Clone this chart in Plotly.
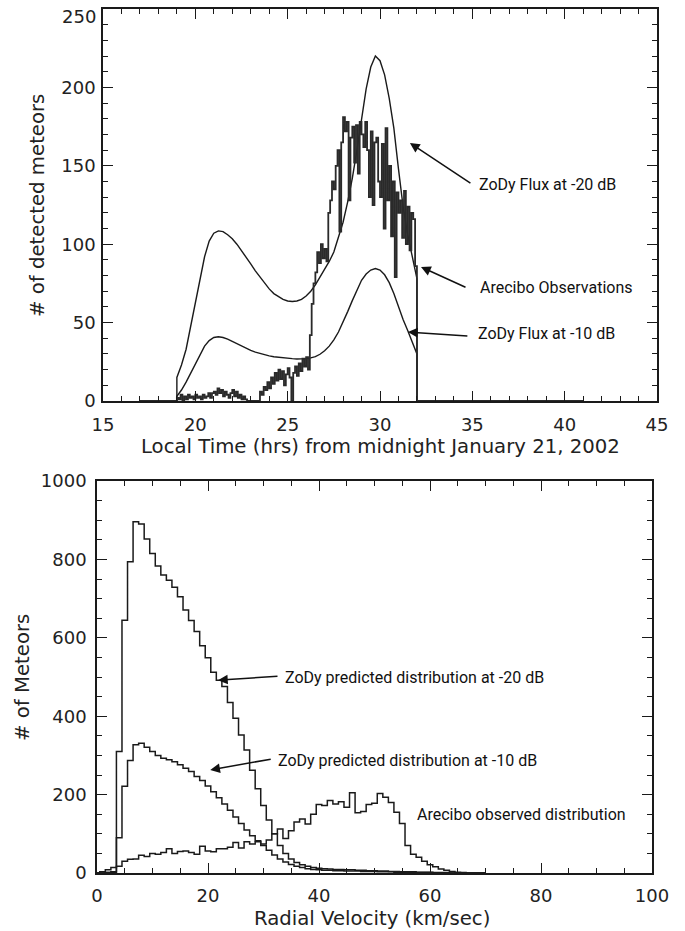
import numpy as np
import plotly.graph_objects as go

# ---------------- Top panel data ----------------
curve_t = np.round(np.arange(19.0, 32.001, 0.25), 2).tolist()
zody_m20 = [15, 23, 33, 48, 63, 78, 92, 102, 107, 108.5, 108, 106, 103.5, 100, 96, 92,
            87.5, 83, 79, 75, 71.5, 68.5, 66.5, 64.8, 63.8, 63.5, 63.8, 64.8, 67, 70, 74,
            79, 84, 89, 95, 104, 114, 127, 142, 160, 180, 199, 213, 220, 217, 208, 193,
            174, 148, 124, 106, 91, 78]
zody_m10 = [3, 7, 12, 18, 24, 30, 35, 38.5, 40.5, 41, 40.5, 39.5, 38, 36.5, 35, 33.5,
            32.3, 31.2, 30.3, 29.5, 28.8, 28.2, 27.8, 27.5, 27.2, 27, 26.8, 26.8, 27,
            27.5, 28.3, 29.8, 32, 35, 39, 44, 50, 57, 64, 71, 77, 81, 83.5, 84.5, 83.5,
            80.5, 75.5, 68.5, 60, 52, 45, 37.5, 30]

arecibo_start = 19.0
arecibo_bin = 0.1
arecibo_counts = [
    2, 1, 4, 0, 3, 1, 4, 2, 3, 1,
    4, 2, 3, 1, 4, 2, 3, 5, 2, 5,
    6, 4, 8, 5, 7, 3, 6, 4, 2, 5,
    7, 3, 6, 2, 4, 1, 3, 1,
    0, 0, 0, 0, 0, 0, 0,
    6, 4, 9, 7, 12,
    8, 15, 11, 18, 13, 20, 14, 19, 10, 17,
    21, 15, 0, 18, 22, 16, 24, 19, 27, 22,
    28,
    20, 42, 62, 75, 82, 95, 88, 100, 91,
    97, 89, 120, 128, 140, 135, 150, 160, 108, 165,
    181, 172, 178, 128, 168, 175, 152, 176, 145, 178,
    170, 162, 178, 160, 130, 172, 125, 165, 168, 140,
    130, 164, 110, 174, 128, 150, 105, 140, 79, 133,
    120, 128, 104, 134, 100, 124, 96, 120, 116, 86,
]
baseline_start, baseline_end = 17.0, 41.0
top_yticks = [0, 50, 100, 150, 200, 250]

# ---------------- Bottom panel data ----------------
vel = list(range(0, 71))
pred_m20 = [0, 0, 1, 3, 310, 645, 794, 896, 890, 852, 815, 783, 760, 747, 729, 705, 671,
            644, 616, 580, 549, 512, 492, 476, 435, 395, 352, 314, 262, 215, 172, 135,
            100, 70, 50, 36, 27, 21, 17, 14, 12, 11, 10, 9, 9, 8, 8, 7, 7, 6, 6, 5, 5,
            4, 4, 3, 3, 3, 2, 2, 2, 1, 1, 1, 0, 0, 0, 0, 0, 0, 0]
pred_m10 = [0, 0, 1, 2, 90, 221, 287, 327, 331, 321, 310, 300, 293, 289, 284, 276, 267,
            259, 246, 236, 222, 207, 192, 176, 160, 143, 126, 110, 95, 82, 70, 58, 46,
            36, 28, 22, 17, 14, 11, 9, 8, 7, 7, 6, 6, 5, 5, 5, 4, 4, 4, 3, 3, 3, 2, 2,
            2, 1, 1, 1, 1, 0, 0, 0, 0, 0, 0, 0, 0, 0, 0]
obs_arecibo = [0, 3, 8, 14, 17, 30, 35, 36, 45, 42, 50, 48, 52, 62, 50, 55, 56, 52, 48,
               68, 56, 54, 62, 62, 66, 78, 64, 80, 74, 80, 74, 84, 100, 112, 88, 108, 130,
               138, 125, 150, 175, 172, 185, 176, 182, 168, 205, 154, 157, 175, 178, 203,
               193, 180, 155, 126, 70, 48, 40, 30, 21, 16, 10, 7, 4, 2, 1, 0, 0, 0, 0]

W, H = 685, 931
INK = "#1a1a1a"

def px(x):
    return x / W

def py(y):
    return 1 - y / H

fig = go.Figure()

# top curves
fig.add_trace(go.Scatter(x=[baseline_start, curve_t[0]] + curve_t + [curve_t[-1], baseline_end],
                         y=[0, 0] + zody_m20 + [0, 0], mode="lines",
                         line=dict(color=INK, width=1.4), xaxis="x", yaxis="y"))
fig.add_trace(go.Scatter(x=[baseline_start, curve_t[0]] + curve_t + [curve_t[-1], baseline_end],
                         y=[0, 0] + zody_m10 + [0, 0], mode="lines",
                         line=dict(color=INK, width=1.4), xaxis="x", yaxis="y"))
bin_starts = [round(arecibo_start + i * arecibo_bin, 2) for i in range(len(arecibo_counts))]
end_t = round(arecibo_start + len(arecibo_counts) * arecibo_bin, 2)
fig.add_trace(go.Scatter(x=[baseline_start] + bin_starts + [end_t, baseline_end],
                         y=[0] + arecibo_counts + [0, 0], mode="lines",
                         line=dict(color="#2a2a2a", width=1.8, shape="hv"),
                         xaxis="x", yaxis="y"))

# bottom histograms
for series in (pred_m20, pred_m10, obs_arecibo):
    fig.add_trace(go.Scatter(x=vel, y=series, mode="lines",
                             line=dict(color=INK, width=1.5, shape="hvh"),
                             xaxis="x2", yaxis="y2"))

tickfont = dict(family="DejaVu Sans", size=18, color="#222")
common = dict(showline=True, linecolor=INK, linewidth=1.5, mirror="ticks",
              ticks="inside", ticklen=10, tickwidth=1.3, tickcolor=INK,
              showgrid=False, zeroline=False, tickfont=tickfont, automargin=False,
              ticklabeloverflow="allow")

def minor(d):
    return dict(ticks="inside", ticklen=5, tickwidth=1.1, tickcolor=INK, dtick=d, showgrid=False)

# the topmost label of the upper panel sits just below its tick (it is drawn separately)
top_ytext = [str(v) for v in top_yticks[:-1]] + [""]

fig.update_layout(
    width=W, height=H, margin=dict(l=0, r=0, t=0, b=0, autoexpand=False),
    paper_bgcolor="white", plot_bgcolor="white", showlegend=False,
    xaxis=dict(domain=[px(103), px(657)], range=[15, 45], tick0=15, dtick=5,
               minor=minor(1), anchor="y", ticklabelstandoff=7, **common),
    yaxis=dict(domain=[py(401), py(9)], range=[0, 250], tickvals=top_yticks,
               ticktext=top_ytext, minor=minor(10), anchor="x", ticklabelstandoff=2,
               **common),
    xaxis2=dict(domain=[px(97), px(652)], range=[0, 100], dtick=20,
                minor=minor(5), anchor="y2", ticklabelstandoff=6, **common),
    yaxis2=dict(domain=[py(873), py(481)], range=[0, 1000], dtick=200,
                minor=minor(50), anchor="x2", ticklabelstandoff=5, **common),
)

titlefont = dict(family="DejaVu Sans", size=19.7, color="#222")
annfont = dict(family="Roboto", size=16, color="#111")
anns = [
    dict(text="Local Time (hrs) from midnight January 21, 2002", x=px(380), y=py(446)),
    dict(text="# of detected meteors", x=px(37), y=py(206), textangle=-90),
    dict(text="Radial Velocity (km/sec)", x=px(372), y=py(918)),
    dict(text="# of Meteors", x=px(22), y=py(678), textangle=-90),
]
for a in anns:
    a.update(xref="paper", yref="paper", xanchor="center", yanchor="middle",
             showarrow=False, font=titlefont)
anns.append(dict(text=str(top_yticks[-1]), x=px(98), y=py(16), xref="paper", yref="paper",
                 xanchor="right", yanchor="middle", showarrow=False, font=tickfont))
labels = [
    ("ZoDy Flux at -20 dB", 477, 184),
    ("Arecibo Observations", 478, 287),
    ("ZoDy Flux at -10 dB", 476, 333),
    ("ZoDy predicted distribution at -20 dB", 283, 677),
    ("ZoDy predicted distribution at -10 dB", 276, 760),
    ("Arecibo observed distribution", 415, 814),
]
for txt, lx, ly in labels:
    anns.append(dict(text=txt, x=px(lx), y=py(ly), xref="paper", yref="paper",
                     xanchor="left", yanchor="middle", showarrow=False, font=annfont))

arrows = [
    ("x", "y", 31.62, 164.5, 62, 41),
    ("x", "y", 32.22, 85.5, 46, 21),
    ("x", "y", 31.51, 44, 61, 4),
    ("x2", "y2", 21.8, 492, 61, -4),
    ("x2", "y2", 20.4, 263, 62, -11),
]
for xr, yr, hx, hy, ax, ay in arrows:
    anns.append(dict(text="", x=hx, y=hy, xref=xr, yref=yr, ax=ax, ay=ay,
                     showarrow=True, arrowhead=2, arrowsize=1.3, arrowwidth=1.5,
                     arrowcolor="#111", standoff=0, startstandoff=0))

fig.update_layout(annotations=anns)
# remove the browser's default page margin so the figure sits at the window origin
fig.write_html("out.html", config={"displayModeBar": False},
               post_script="document.body.style.margin='0';")
